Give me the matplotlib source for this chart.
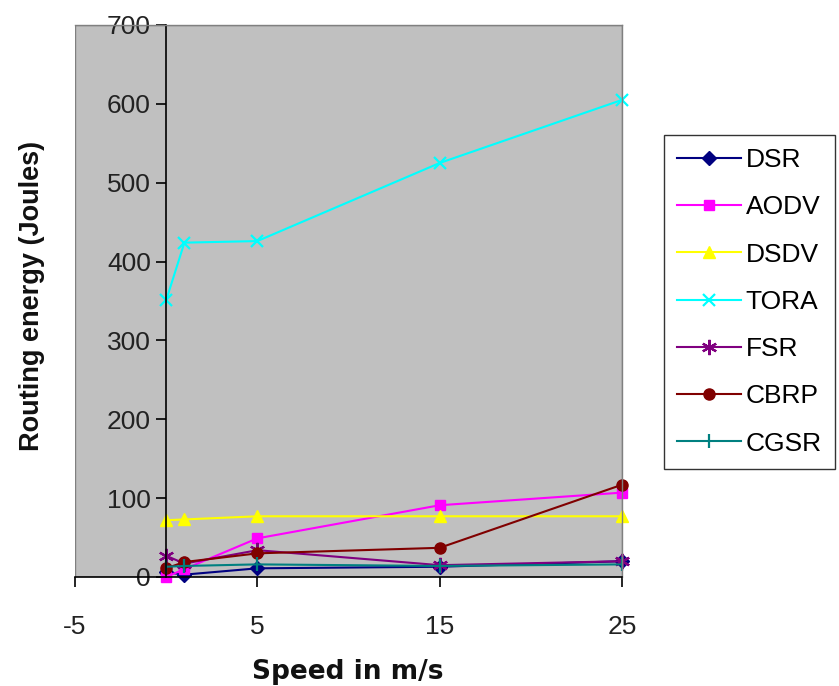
import matplotlib
matplotlib.use("Agg")
import matplotlib.pyplot as plt
from matplotlib.patches import Rectangle

plt.rcParams["axes.unicode_minus"] = False

speeds = [0, 1, 5, 15, 25]
dsr = [6, 3, 11, 13, 20]
aodv = [0, 10, 49, 91, 107]
dsdv = [72, 73, 77, 77, 77]
tora = [351, 424, 426, 525, 605]
fsr = [27, 17, 34, 15, 20]
cbrp = [11, 19, 30, 37, 117]
cgsr = [13, 14, 16, 14, 16]

series = [
    ("DSR", dsr, "#000080", "D", 7),
    ("AODV", aodv, "#FF00FF", "s", 7),
    ("DSDV", dsdv, "#FFFF00", "^", 8),
    ("TORA", tora, "#00FFFF", "x", 9),
    ("FSR", fsr, "#800080", (6, 2, 0), 11),
    ("CBRP", cbrp, "#800000", "o", 8),
    ("CGSR", cgsr, "#008080", "|", 10),
]

x_ticks = [-5, 5, 15, 25]
y_ticks = [0, 100, 200, 300, 400, 500, 600, 700]

fig = plt.figure(figsize=(8.39, 6.86), dpi=100)
ax = fig.add_axes([75/839, 1-577/686, (622-75)/839, (577-25)/686])
ax.set_facecolor("#C0C0C0")

for name, vals, col, mk, ms in series:
    mew = 1.6 if mk in ("x", "|") or isinstance(mk, tuple) else 1
    ax.plot(speeds, vals, color=col, marker=mk, markersize=ms, linewidth=1.5,
            markeredgewidth=mew, label=name, clip_on=False)

ax.set_xlim(-5, 25)
ax.set_ylim(0, 700)
ax.set_xticks(x_ticks)
ax.set_yticks(y_ticks)

ax.spines["left"].set_position(("data", 0))
ax.spines["left"].set_color("black")
ax.spines["bottom"].set_color("black")
ax.spines["left"].set_linewidth(1.2)
ax.spines["bottom"].set_linewidth(1.2)
for s in ("top", "right"):
    ax.spines[s].set_color("#808080")
    ax.spines[s].set_linewidth(1.0)
ax.add_patch(Rectangle((0, 0), 1, 1, transform=ax.transAxes, fill=False,
                       edgecolor="#808080", linewidth=1.0, zorder=0.5))

ax.tick_params(axis="both", direction="out", length=7, width=1.2, colors="black",
               labelsize=19, labelcolor="#222222")
ax.tick_params(axis="y", pad=4)
ax.tick_params(axis="x", pad=20)
for lab in ax.get_xticklabels() + ax.get_yticklabels():
    lab.set_family("Liberation Sans")

fig.text(348/839, 1-672/686, "Speed in m/s", ha="center", va="center",
         fontsize=19, fontweight="bold", family="DejaVu Sans", color="#111111")
fig.text(32/839, 1-296/686, "Routing energy (Joules)", ha="center", va="center",
         rotation=90, fontsize=19.5, fontweight="bold", family="Liberation Sans",
         color="#111111")

leg = fig.legend(loc="upper left", bbox_to_anchor=(664/839, 1-135/686),
                 frameon=True, fancybox=False, edgecolor="black",
                 prop={"family": "Liberation Sans", "size": 19},
                 handlelength=2.4, handletextpad=0.2, labelspacing=0.88,
                 borderpad=0.5, borderaxespad=0)
leg.get_frame().set_linewidth(1.0)

fig.savefig("out.png", dpi=100)
